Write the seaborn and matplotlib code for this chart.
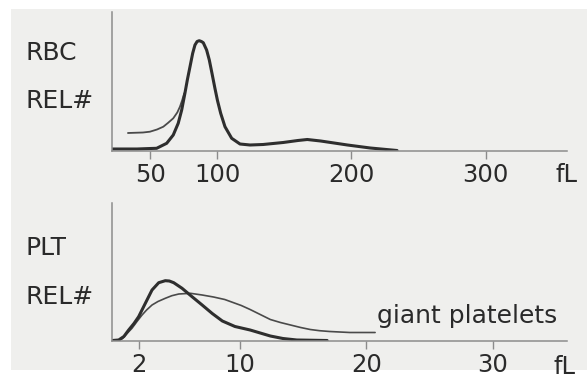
import matplotlib
matplotlib.use("Agg")
import matplotlib.pyplot as plt
import pandas as pd
import seaborn as sns
from matplotlib.patches import Rectangle

# % Data (fL, relative count)
rbc_main_x = [21, 40, 50, 54.6, 62.1, 67, 70.7, 73.3, 75.7, 77.5, 79.5, 81.5, 83.2,
              84.8, 86.4, 88, 89.4, 91.9, 93.9, 95.9, 98.1, 100, 102.4, 105.6, 110.6,
              116.8, 124.3, 134, 149, 160, 167, 177, 197, 214, 234]
rbc_main_y = [1.5, 1.5, 2, 2.2, 7.2, 15.5, 27.2, 40.5, 57.2, 70.5, 83.8, 97.2, 105.5,
              109, 109.8, 109, 107.8, 100.5, 90.5, 77.2, 62.2, 50, 37.2, 23.8, 12.2,
              6.5, 5.5, 6, 8, 10, 11, 9.5, 5.5, 2.5, 0]
rbc_micro_x = [33.2, 44.4, 49.6, 54.9, 59.6, 63, 67, 70, 72, 73.6, 75.2]
rbc_micro_y = [17.5, 18, 18.8, 21, 23.8, 27.5, 32.2, 38, 43.8, 50, 57.2]

plt_main_x = [-0.1, 0.39, 0.8, 1.18, 1.6, 1.97, 2.5, 3.03, 3.56, 4.08, 4.4, 4.75,
              5.41, 6.2, 7.0, 7.8, 8.6, 9.6, 10.8, 11.6, 12.4, 13.4, 14.5, 16.9]
plt_main_y = [0, 0.5, 4, 10.5, 17, 23.8, 37.2, 50.5, 57.8, 59.8, 59.5, 57.8, 52.2,
              43.8, 35.5, 27, 19.5, 14, 10.5, 7.5, 4.5, 2, 0.5, 0]
plt_giant_x = [0.45, 0.7, 1.05, 1.44, 1.84, 2.24, 2.6, 3.03, 3.5, 4.08, 4.6, 5.15,
               6.07, 7.0, 7.9, 8.79, 10.1, 10.8, 11.6, 12.4, 13.2, 14.0, 14.8, 15.56,
               16.3, 17.1, 18.7, 20.7]
plt_giant_y = [0.5, 2, 7, 12.2, 19, 25.5, 30.5, 35.5, 39, 42.2, 44.8, 46.5, 47.2,
               45.5, 43.5, 41, 35, 31, 26, 21, 18, 15.5, 13, 11, 9.8, 9, 8, 8]

rbc_ticks = [50, 100, 200, 300]
plt_ticks = [2, 10, 20, 30]

W, H = 587, 379
dark = "#2e2e2e"
thin = "#4a4a4a"
axis_col = "#8c8c8c"
txt_col = "#2a2a2a"
fs = 18

sns.set_style("white")
plt.rcParams["font.family"] = ["DejaVu Sans"]

fig = plt.figure(figsize=(W / 100, H / 100), dpi=100, facecolor="white")
bg = Rectangle((11 / W, 9 / H), 1 - 11 / W, 1 - 18 / H, transform=fig.transFigure,
               facecolor="#efefed", edgecolor="none", zorder=-5)
fig.patches.append(bg)

left, width = 112 / W, 455 / W
ax_rbc = fig.add_axes([left, 1 - 150.5 / H, width, 138.5 / H])
ax_plt = fig.add_axes([left, 1 - 340.5 / H, width, 137.5 / H])


def draw(ax, x1, y1, x2, y2, lw2):
    d1 = pd.DataFrame({"x": x1, "y": y1})
    d2 = pd.DataFrame({"x": x2, "y": y2})
    sns.lineplot(data=d2, x="x", y="y", ax=ax, color=thin, linewidth=lw2,
                 estimator=None, sort=False)
    sns.lineplot(data=d1, x="x", y="y", ax=ax, color=dark, linewidth=2.2,
                 estimator=None, sort=False)


draw(ax_rbc, rbc_main_x, rbc_main_y, rbc_micro_x, rbc_micro_y, 1.3)
draw(ax_plt, plt_main_x, plt_main_y, plt_giant_x, plt_giant_y, 1.2)

ax_rbc.set_xlim(21.3, 360.8)
ax_rbc.set_ylim(0, 138.5)
ax_plt.set_xlim(-0.14, 35.9)
ax_plt.set_ylim(0, 137.5)

for ax, ticks in [(ax_rbc, rbc_ticks), (ax_plt, plt_ticks)]:
    ax.set_facecolor("none")
    ax.set(xlabel="", ylabel="")
    ax.set_yticks([])
    ax.set_xticks(ticks)
    ax.set_xticklabels([str(t) for t in ticks], fontsize=fs - 0.5, color=txt_col)
    ax.tick_params(axis="x", direction="out", length=6, width=1, color=axis_col,
                   pad=3, bottom=True)
    for side in ["top", "right"]:
        ax.spines[side].set_visible(False)
    for side in ["left", "bottom"]:
        ax.spines[side].set_color(axis_col)
        ax.spines[side].set_linewidth(1.1)


def ftext(x, y, s, **kw):
    fig.text(x / W, 1 - y / H, s, color=txt_col, **kw)


ftext(26, 52.5, "RBC", fontsize=fs, va="center")
ftext(26, 101.5, "REL#", fontsize=fs, va="center")
ftext(26, 248, "PLT", fontsize=fs, va="center")
ftext(26, 297, "REL#", fontsize=fs, va="center")
ftext(566, 174.5, "fL", fontsize=fs - 0.5, va="center", ha="center")
ftext(565, 367, "fL", fontsize=fs - 0.5, va="center", ha="center")
ftext(377, 323, "giant platelets", fontsize=fs, va="baseline", ha="left")

plt.savefig("out.png", dpi=100)
